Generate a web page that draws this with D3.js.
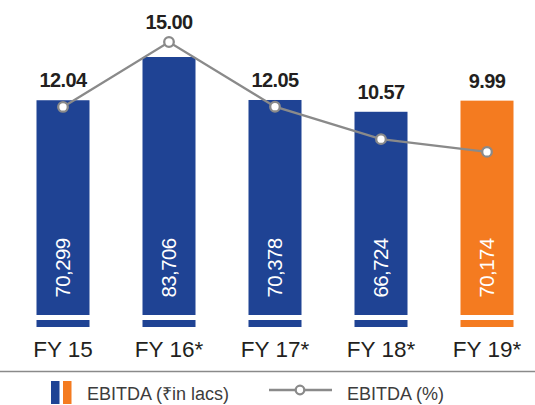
<!DOCTYPE html>
<html>
<head>
<meta charset="utf-8">
<script src="https://cdn.jsdelivr.net/npm/d3@7"></script>
<style>
    body { margin: 0; background: #fff; }
    svg { display: block; font-family: 'Liberation Sans', Arial, sans-serif; }
</style>
</head>
<body>
<div id="chart"></div>
<script>
// chart data
const years = ['FY 15', 'FY 16*', 'FY 17*', 'FY 18*', 'FY 19*'];
const ebitdaLacs = [70299, 83706, 70378, 66724, 70174];
const ebitdaPct = [12.04, 15.00, 12.05, 10.57, 9.99];
const barColors = ['#1f4394', '#1f4394', '#1f4394', '#1f4394', '#f47b20'];

const width = 535;
const height = 405;
const blue = '#1f4394';
const orange = '#f47b20';
const grey = '#8a8a8a';

const svg = d3.select('#chart').append('svg')
    .attr('width', width)
    .attr('height', height);

const x = d3.scaleBand()
    .domain(years)
    .range([10, 540])
    .paddingInner(0.5)
    .paddingOuter(0.25);

const yBar = d3.scaleLinear()
    .domain([0, d3.max(ebitdaLacs)])
    .range([327, 57]);

const yPct = d3.scaleLinear()
    .domain([0, 15])
    .range([371, 42]);

const data = years.map((y, i) => ({ year: y, lacs: ebitdaLacs[i], pct: ebitdaPct[i], color: barColors[i] }));

// bars (main part, then the thin base strip under a white gap)
svg.selectAll('.bar')
    .data(data)
    .enter()
    .append('rect')
    .attr('class', 'bar')
    .attr('x', d => x(d.year))
    .attr('y', d => yBar(d.lacs))
    .attr('width', x.bandwidth())
    .attr('height', d => 315 - yBar(d.lacs))
    .attr('fill', d => d.color);

svg.selectAll('.base')
    .data(data)
    .enter()
    .append('rect')
    .attr('class', 'base')
    .attr('x', d => x(d.year))
    .attr('y', 320)
    .attr('width', x.bandwidth())
    .attr('height', 7)
    .attr('fill', d => d.color);

// values inside bars
svg.selectAll('.inner')
    .data(data)
    .enter()
    .append('text')
    .attr('class', 'inner')
    .attr('transform', d => `translate(${x(d.year) + x.bandwidth() / 2 + 7},268) rotate(-90)`)
    .attr('text-anchor', 'middle')
    .attr('fill', '#fff')
    .style('font-size', '20.5px')
    .style('letter-spacing', '-0.6px')
    .text(d => d3.format(',')(d.lacs));

// percentage line
const line = d3.line()
    .x(d => x(d.year) + x.bandwidth() / 2)
    .y(d => yPct(d.pct));

svg.append('path')
    .datum(data)
    .attr('d', line)
    .attr('fill', 'none')
    .attr('stroke', grey)
    .attr('stroke-width', 2.3);

svg.selectAll('.dot')
    .data(data)
    .enter()
    .append('circle')
    .attr('class', 'dot')
    .attr('cx', d => x(d.year) + x.bandwidth() / 2)
    .attr('cy', d => yPct(d.pct))
    .attr('r', 4.8)
    .attr('fill', '#fff')
    .attr('stroke', grey)
    .attr('stroke-width', 2.3);

// percentage labels
svg.selectAll('.pct-label')
    .data(data)
    .enter()
    .append('text')
    .attr('class', 'pct-label')
    .attr('x', d => x(d.year) + x.bandwidth() / 2)
    .attr('y', d => Math.min(yBar(d.lacs), yPct(d.pct)) - 13)
    .attr('text-anchor', 'middle')
    .attr('fill', '#231f20')
    .style('font-size', '20px')
    .style('font-weight', 'bold')
    .style('letter-spacing', '-0.6px')
    .text(d => d.pct.toFixed(2));

// x axis labels
svg.append('g')
    .attr('transform', 'translate(0,357)')
    .call(d3.axisBottom(x).tickSize(0).tickPadding(0))
    .call(g => g.select('.domain').remove())
    .selectAll('text')
    .attr('dy', 0)
    .attr('fill', '#231f20')
    .style('font-family', "'Liberation Sans', Arial, sans-serif")
    .style('font-size', '22.5px');

// separator
svg.append('line')
    .attr('x1', 0)
    .attr('x2', width)
    .attr('y1', 371.5)
    .attr('y2', 371.5)
    .attr('stroke', grey)
    .attr('stroke-width', 1.5);

// legend
const legend = svg.append('g');
legend.append('rect').attr('x', 51).attr('y', 381).attr('width', 8.5).attr('height', 23).attr('fill', blue);
legend.append('rect').attr('x', 63).attr('y', 381).attr('width', 8.5).attr('height', 23).attr('fill', orange);
legend.append('text')
    .attr('x', 87)
    .attr('y', 400)
    .attr('fill', '#3c3c3c')
    .style('font-size', '18px')
    .text('EBITDA (₹in lacs)');

legend.append('line')
    .attr('x1', 269).attr('x2', 332)
    .attr('y1', 390).attr('y2', 390)
    .attr('stroke', grey)
    .attr('stroke-width', 2.3);
legend.append('circle')
    .attr('cx', 300).attr('cy', 390).attr('r', 4.3)
    .attr('fill', '#fff')
    .attr('stroke', grey)
    .attr('stroke-width', 2.3);
legend.append('text')
    .attr('x', 347)
    .attr('y', 400)
    .attr('fill', '#3c3c3c')
    .style('font-size', '18px')
    .text('EBITDA (%)');
</script>
</body>
</html>
